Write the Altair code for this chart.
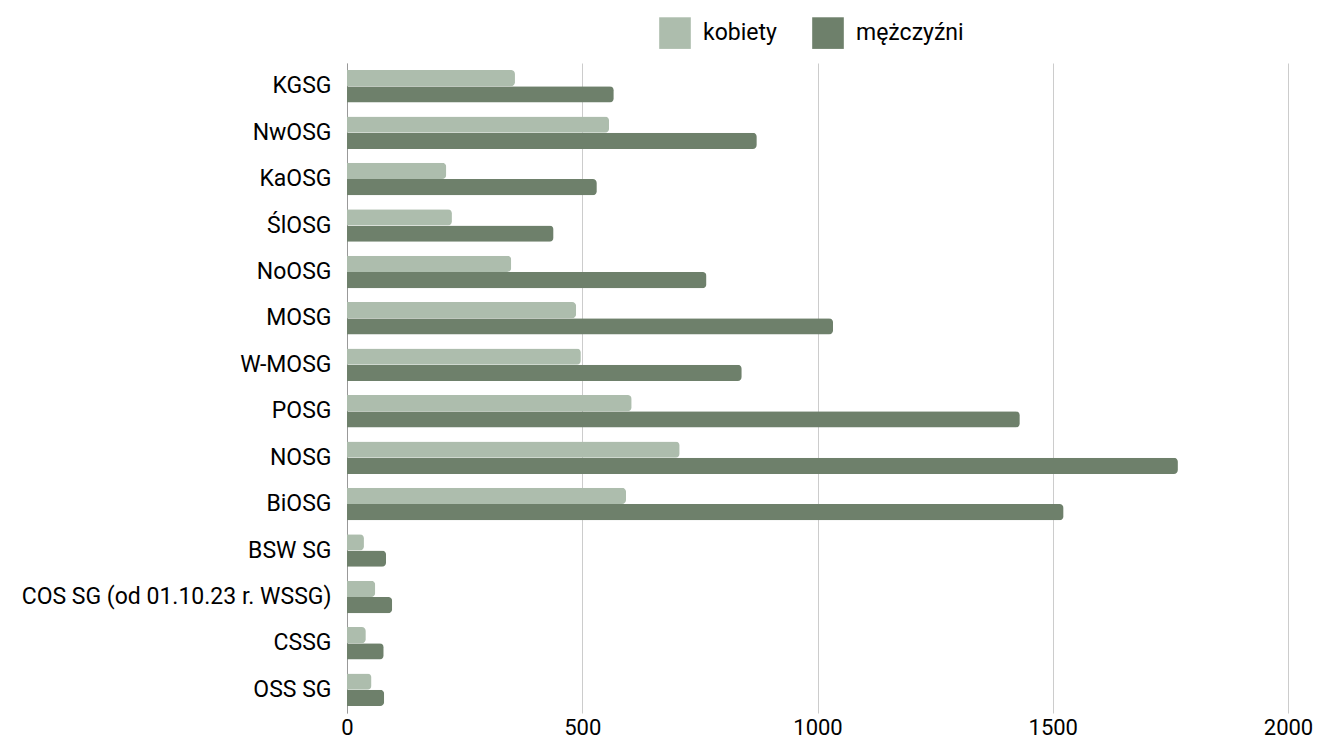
import altair as alt
import pandas as pd

categories = ["KGSG", "NwOSG", "KaOSG", "ŚlOSG", "NoOSG", "MOSG", "W-MOSG", "POSG",
              "NOSG", "BiOSG", "BSW SG", "COS SG (od 01.10.23 r. WSSG)", "CSSG", "OSS SG"]
kobiety = [357, 557, 211, 223, 349, 487, 497, 605, 707, 593, 36, 60, 40, 52]
mezczyzni = [567, 871, 531, 439, 764, 1033, 839, 1430, 1766, 1523, 83, 96, 78, 79]
series = ["kobiety", "mężczyźni"]
colors = ["#adbdad", "#6e806b"]
x_ticks = [0, 500, 1000, 1500, 2000]

rows = []
for c, k, m in zip(categories, kobiety, mezczyzni):
    rows.append({"cat": c, "series": series[0], "value": k})
    rows.append({"cat": c, "series": series[1], "value": m})
df = pd.DataFrame(rows)

FONT = "Roboto, sans-serif"

chart = alt.Chart(df).mark_bar(cornerRadiusEnd=4).encode(
    y=alt.Y("cat:N", sort=categories, title=None,
            scale=alt.Scale(paddingInner=0.3, paddingOuter=0.15),
            axis=alt.Axis(labelFontSize=23, labelFont=FONT, labelColor="#000000",
                          labelPadding=16, ticks=False, domain=True, labelLimit=0,
                          domainColor="#999999", grid=False)),
    yOffset=alt.YOffset("series:N", sort=series),
    x=alt.X("value:Q", title=None,
            scale=alt.Scale(domain=[0, 2000], nice=False),
            axis=alt.Axis(values=x_ticks, format="d", labelFontSize=22,
                          labelFont=FONT, labelColor="#000000", ticks=False,
                          domain=False, grid=True, gridColor="#cccccc",
                          labelPadding=4, labelFlush=False)),
    color=alt.Color("series:N", sort=series,
                    scale=alt.Scale(domain=series, range=colors),
                    legend=alt.Legend(title=None, orient="none", direction="horizontal",
                                      legendX=312, legendY=-46,
                                      symbolType="square", symbolSize=1000,
                                      symbolStrokeWidth=0, labelFontSize=23,
                                      labelFont=FONT, labelColor="#000000",
                                      columnPadding=35, labelOffset=12)),
).properties(
    width=941, height=650,
    autosize=alt.AutoSizeParams(type="none"),
    padding={"left": 347, "top": 63, "right": 29, "bottom": 30},
).configure_view(stroke=None)

chart.save("out.html", embed_options={"renderer": "svg", "actions": False})
